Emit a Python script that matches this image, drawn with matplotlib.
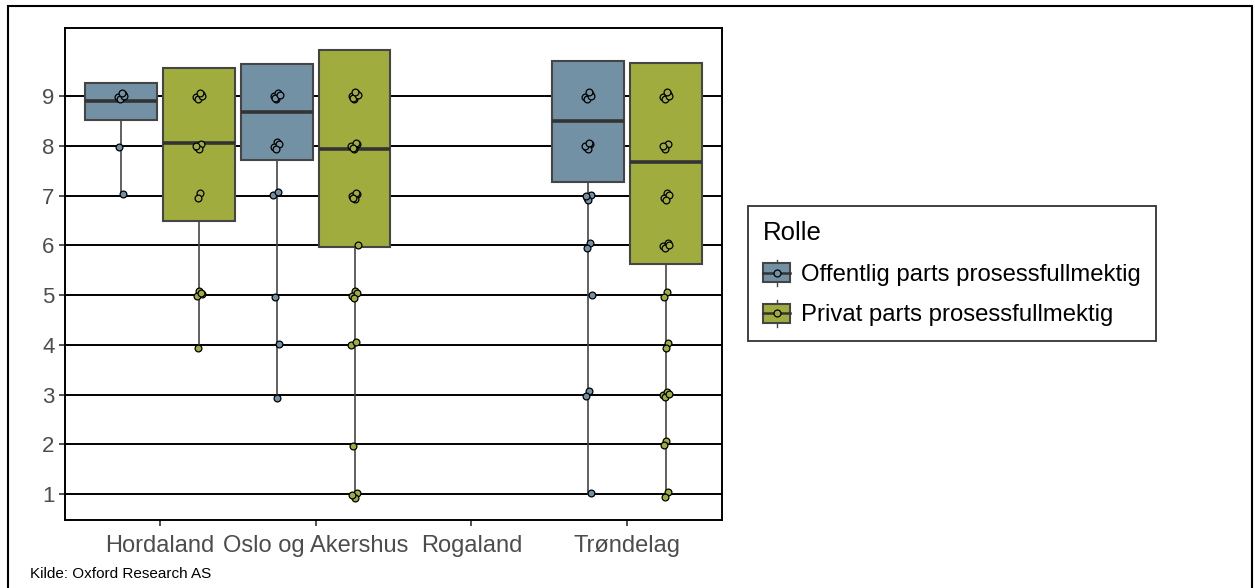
import matplotlib
matplotlib.use("Agg")
import matplotlib.pyplot as plt
from matplotlib.legend_handler import HandlerBase
from matplotlib.patches import Rectangle
from matplotlib.lines import Line2D
from matplotlib import font_manager as fm

# ---------------- data ----------------
regions = ["Hordaland", "Oslo og Akershus", "Rogaland", "Trøndelag"]
roles = ["Offentlig parts prosessfullmektig", "Privat parts prosessfullmektig"]

# box statistics per region (None = no data)
off_q1 = [8.52, 7.71, None, 7.27]
off_med = [8.90, 8.68, None, 8.50]
off_q3 = [9.26, 9.64, None, 9.70]
off_lo = [7, 3, None, 1]

priv_q1 = [6.49, 5.96, None, 5.62]
priv_med = [8.05, 7.93, None, 7.67]
priv_q3 = [9.56, 9.92, None, 9.66]
priv_lo = [4, 1, None, 1]

# observed answers (value: count) per region
off_points = [
    {9: 5, 8: 1, 7: 1},
    {9: 5, 8: 4, 7: 2, 5: 1, 4: 1, 3: 1},
    {},
    {9: 5, 8: 5, 7: 4, 6: 2, 5: 1, 3: 2, 1: 1},
]
priv_points = [
    {9: 5, 8: 4, 7: 2, 5: 4, 4: 1},
    {9: 6, 8: 6, 7: 5, 6: 1, 5: 4, 4: 2, 2: 1, 1: 3},
    {},
    {9: 5, 8: 4, 7: 4, 6: 4, 5: 2, 4: 2, 3: 4, 2: 2, 1: 2},
]

yticks = [1, 2, 3, 4, 5, 6, 7, 8, 9]
caption = "Kilde: Oxford Research AS"
legend_title = "Rolle"

# ---------------- style ----------------
C_OFF = "#7391A5"
C_PRIV = "#A0AD3E"
GREY_TXT = "#4D4D4D"
EDGE = "#454545"

avail = {f.name for f in fm.fontManager.ttflist}
main_font = "Liberation Sans" if "Liberation Sans" in avail else "DejaVu Sans"
narrow_font = "Liberation Sans Narrow" if "Liberation Sans Narrow" in avail else main_font
plt.rcParams["font.family"] = [main_font, "DejaVu Sans"]

W, H = 1255, 588
fig = plt.figure(figsize=(W / 100, H / 100), dpi=100)
ax = fig.add_axes([65 / W, 1 - 520 / H, (722 - 65) / W, (520 - 28) / H])

ax.set_xlim(0.39, 4.61)
ax.set_ylim(0.48, 10.37)

for y in yticks:
    ax.axhline(y, color="black", lw=1.4, zorder=0.5)

dodge = 0.25
bw = 0.46


def make_stats(q1s, meds, q3s, los, off):
    st, pos = [], []
    for i in range(len(regions)):
        if q1s[i] is None:
            continue
        st.append(dict(med=meds[i], q1=q1s[i], q3=q3s[i], whislo=los[i],
                       whishi=q3s[i], fliers=[]))
        pos.append(i + 1 + off)
    return st, pos


for (q1s, meds, q3s, los, off, col) in [
    (off_q1, off_med, off_q3, off_lo, -dodge, C_OFF),
    (priv_q1, priv_med, priv_q3, priv_lo, dodge, C_PRIV),
]:
    st, pos = make_stats(q1s, meds, q3s, los, off)
    ax.bxp(st, positions=pos, widths=bw, patch_artist=True, showfliers=False,
           showcaps=False, manage_ticks=False,
           boxprops=dict(facecolor=col, edgecolor=EDGE, linewidth=1.5),
           medianprops=dict(color="#333333", linewidth=2.6, solid_capstyle="butt"),
           whiskerprops=dict(color=EDGE, linewidth=1.2), zorder=2)


# deterministic jitter pattern (small, like geom_jitter)
def jitter(k):
    dx = (((k * 0.6180339) + 0.13) % 1 - 0.5) * 0.045
    dy = (((k * 0.3819660) + 0.41) % 1 - 0.5) * 0.16
    return dx, dy


for pts_list, off, col in [(off_points, -dodge, C_OFF), (priv_points, dodge, C_PRIV)]:
    for i, d in enumerate(pts_list):
        xs, ys = [], []
        k = 0
        for v, n in d.items():
            for j in range(n):
                dx, dy = jitter(k + i * 7)
                xs.append(i + 1 + off + dx)
                ys.append(v + dy)
                k += 1
        if xs:
            ax.scatter(xs, ys, s=24, facecolor=col, edgecolor="black",
                       linewidth=0.9, zorder=3)

ax.set_yticks(yticks)
ax.set_yticklabels([str(v) for v in yticks])
ax.set_xticks(range(1, len(regions) + 1))
ax.set_xticklabels(regions)
ax.tick_params(axis="both", length=4, width=1.2, color="#333333",
               labelcolor=GREY_TXT, labelsize=16)
ax.tick_params(axis="x", labelsize=17, pad=7)
for s in ax.spines.values():
    s.set_linewidth(1.4)
    s.set_color("black")


# ---------------- legend ----------------
class BoxHandler(HandlerBase):
    def create_artists(self, legend, orig_handle, xdescent, ydescent, width,
                       height, fontsize, trans):
        col = orig_handle.get_facecolor()
        x0, y0 = -xdescent, -ydescent
        bh = height * 0.72
        by = y0 + (height - bh) / 2
        cx = x0 + width / 2
        cy = y0 + height / 2
        arts = [
            Line2D([cx, cx], [y0, y0 + height], color=EDGE, lw=1.0),
            Rectangle((x0, by), width, bh, facecolor=col, edgecolor=EDGE, lw=1.5),
            Line2D([x0, x0 + width], [cy, cy], color="#333333", lw=1.8),
            Line2D([cx], [cy], marker="o", markersize=5, markerfacecolor=col,
                   markeredgecolor="black", markeredgewidth=0.9, linestyle="none"),
        ]
        for a in arts:
            a.set_transform(trans)
        return arts


handles = [Rectangle((0, 0), 1, 1, facecolor=C_OFF),
           Rectangle((0, 0), 1, 1, facecolor=C_PRIV)]
leg = fig.legend(handles, roles, handler_map={Rectangle: BoxHandler()},
                 loc="upper left", bbox_to_anchor=(748 / W, 1 - 206 / H),
                 borderaxespad=0, fontsize=17.2, title=legend_title,
                 title_fontsize=18.5, frameon=True, fancybox=False,
                 handlelength=1.15, handleheight=1.3, handletextpad=0.45,
                 labelspacing=0.62, borderpad=0.62)
leg._legend_box.align = "left"
leg.get_frame().set_edgecolor("black")
leg.get_frame().set_linewidth(1.3)
for t in leg.get_texts():
    t.set_color("black")

# ---------------- caption & border ----------------
fig.text(30 / W, 1 - 574 / H, caption, fontsize=11, family=[narrow_font, "DejaVu Sans"],
         va="center", ha="left")
fig.patches.append(Rectangle((8 / W, -0.05), (1252 - 8) / W, 1.05 - 6 / H,
                             transform=fig.transFigure, fill=False,
                             edgecolor="black", lw=1.5))

fig.savefig("out.png", dpi=100)
